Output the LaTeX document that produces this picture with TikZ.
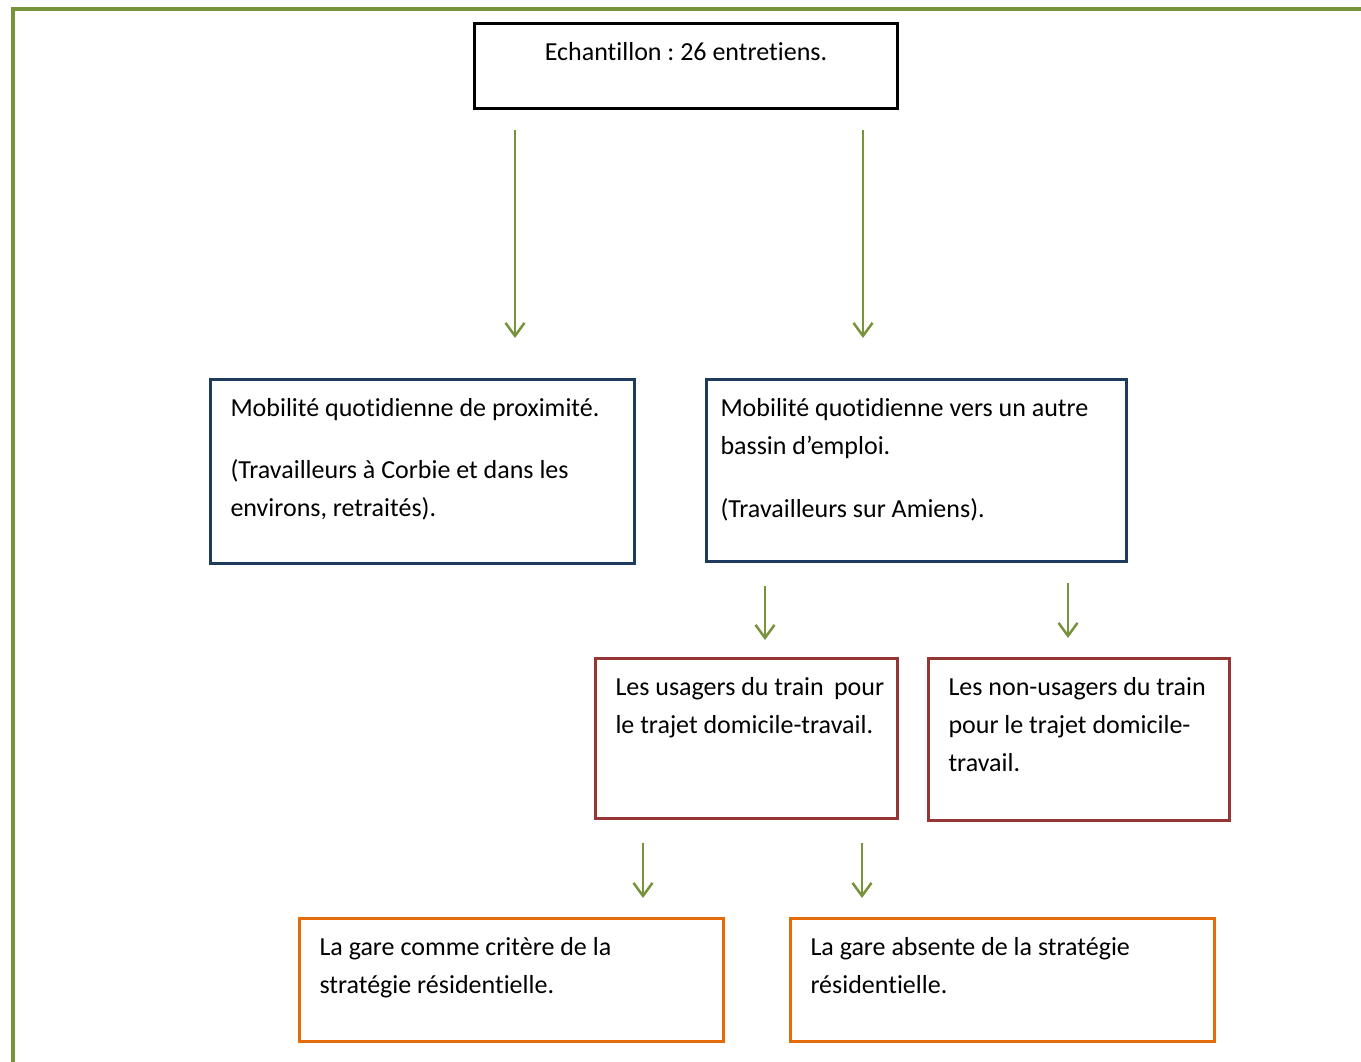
\documentclass[tikz,border=0pt]{standalone}
\usepackage{fontspec}
\setmainfont{Carlito}[Ligatures=NoCommon]
\usetikzlibrary{arrows.meta,calc}
\definecolor{catVertOlive}{HTML}{77933C}
\definecolor{catBleuNuit}{HTML}{1F3A5F}
\definecolor{catBordeaux}{HTML}{943634}
\definecolor{catOrange}{HTML}{E46C0A}
\colorlet{colFleche}{catVertOlive}
\colorlet{colCadre}{catVertOlive}
\frenchspacing

% texte en haut de la boîte, lignes coupées à la main
\newcommand{\contenu}[3]{\parbox[t][#2][t]{#1}{\begin{tabular}[t]{@{}l@{}}#3\end{tabular}}}

\begin{document}
\begin{tikzpicture}[x=1pt, y=-1pt, font=\fontsize{26}{38}\selectfont,
        boite/.style={draw=#1, line width=3pt, anchor=north west, inner xsep=20pt, inner ysep=10pt},
        fleche/.style={-{Straight Barb[length=13pt, width=19pt]}, draw=colFleche, line width=2.5pt}]
    \useasboundingbox (0,0) rectangle (1361,1061);

    % Cadre
    \draw[colCadre, line width=4pt] (13,1075) -- (13,9) -- (1375,9);

    % Echantillon
    \node[boite=black] (echantillon) at (473,22)
        {\parbox[t][65pt][t]{383pt}{\centering\strut Echantillon : 26 entretiens.}};

    % Deux types de mobilité
    \node[boite=catBleuNuit] (proximite) at (209,378)
        {\contenu{384pt}{164pt}{Mobilité quotidienne de proximité.\\[24pt] (Travailleurs à Corbie et dans les\\ environs, retraités).}};
    \node[boite=catBleuNuit, inner xsep=14pt] (bassin) at (705,378)
        {\contenu{392pt}{162pt}{Mobilité quotidienne vers un autre\\ bassin d’emploi.\\[25pt] (Travailleurs sur Amiens).}};

    % Usagers / non-usagers
    \node[boite=catBordeaux] (usagers) at (594,657)
        {\contenu{262pt}{140pt}{Les usagers du train\, pour\\ le trajet domicile-travail.}};
    \node[boite=catBordeaux] (nonusagers) at (927,657)
        {\contenu{261pt}{142pt}{Les non-usagers du train\\ pour le trajet domicile-\\ travail.}};

    % La gare
    \node[boite=catOrange] (critere) at (298,917)
        {\contenu{384pt}{103pt}{La gare comme critère de la\\ stratégie résidentielle.}};
    \node[boite=catOrange] (absente) at (789,917)
        {\contenu{384pt}{103pt}{La gare absente de la stratégie\\ résidentielle.}};

    % Axes des flèches
    \coordinate (axeA) at (515,0);
    \coordinate (axeB) at (863,0);
    \coordinate (axeC) at (765,0);
    \coordinate (axeD) at (1068,0);
    \coordinate (axeE) at (643,0);
    \coordinate (axeF) at (862,0);

    % Flèches
    \draw[fleche, shorten <=20pt, shorten >=40pt] (echantillon.south -| axeA) -- (proximite.north -| axeA);
    \draw[fleche, shorten <=20pt, shorten >=40pt] (echantillon.south -| axeB) -- (bassin.north -| axeB);
    \draw[fleche, shorten <=23pt, shorten >=17pt] (bassin.south -| axeC) -- (usagers.north -| axeC);
    \draw[fleche, shorten <=20pt, shorten >=19pt] (bassin.south -| axeD) -- (nonusagers.north -| axeD);
    \draw[fleche, shorten <=23pt, shorten >=19pt] (usagers.south -| axeE) -- (critere.north -| axeE);
    \draw[fleche, shorten <=23pt, shorten >=19pt] (usagers.south -| axeF) -- (absente.north -| axeF);
\end{tikzpicture}
\end{document}
